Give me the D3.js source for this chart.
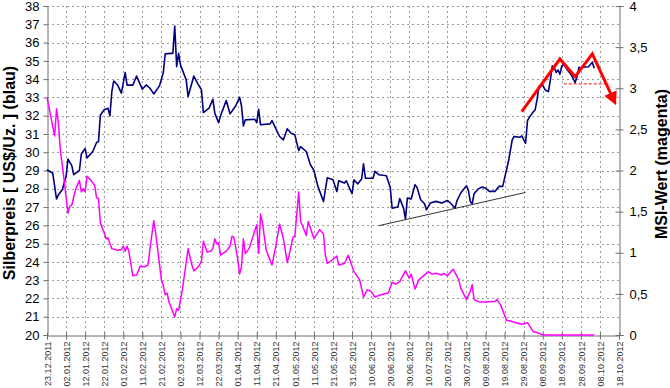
<!DOCTYPE html>
<html>
<head>
<meta charset="utf-8">
<script src="https://cdn.jsdelivr.net/npm/d3@7"></script>
<style>
body { margin: 0; background: #fff; }
svg { display: block; font-family: Arial, "Liberation Sans", sans-serif; }
</style>
</head>
<body>
<svg width="670" height="388"></svg>
<script>
// Silberpreis (blau), linke Achse
var silverDates = [
  "23.12.2011","26.12.2011","28.12.2011","29.12.2011","31.12.2011",
  "02.01.2012","03.01.2012","05.01.2012","06.01.2012","09.01.2012","10.01.2012","12.01.2012","13.01.2012","16.01.2012","18.01.2012","19.01.2012","20.01.2012","22.01.2012","24.01.2012","25.01.2012","26.01.2012","27.01.2012","29.01.2012","31.01.2012",
  "02.02.2012","03.02.2012","06.02.2012","08.02.2012","09.02.2012","11.02.2012","13.02.2012","15.02.2012","17.02.2012","20.02.2012","22.02.2012","23.02.2012","26.02.2012","27.02.2012","28.02.2012","29.02.2012",
  "01.03.2012","02.03.2012","05.03.2012","06.03.2012","09.03.2012","11.03.2012","13.03.2012","14.03.2012","17.03.2012","19.03.2012","20.03.2012","22.03.2012","23.03.2012","26.03.2012","28.03.2012","31.03.2012",
  "02.04.2012","03.04.2012","04.04.2012","05.04.2012","10.04.2012","11.04.2012","12.04.2012","13.04.2012","18.04.2012","19.04.2012","23.04.2012","25.04.2012","27.04.2012","29.04.2012",
  "01.05.2012","03.05.2012","04.05.2012","07.05.2012","09.05.2012","11.05.2012","13.05.2012","16.05.2012","18.05.2012","21.05.2012","23.05.2012","24.05.2012","27.05.2012","28.05.2012","30.05.2012","31.05.2012",
  "01.06.2012","03.06.2012","05.06.2012","06.06.2012","07.06.2012","11.06.2012","12.06.2012","14.06.2012","18.06.2012","20.06.2012","21.06.2012","24.06.2012","25.06.2012","27.06.2012","28.06.2012","29.06.2012",
  "01.07.2012","03.07.2012","04.07.2012","06.07.2012","08.07.2012","09.07.2012","11.07.2012","14.07.2012","17.07.2012","20.07.2012","22.07.2012","24.07.2012","25.07.2012","27.07.2012","30.07.2012","31.07.2012",
  "01.08.2012","02.08.2012","03.08.2012","05.08.2012","07.08.2012","09.08.2012","11.08.2012","14.08.2012","16.08.2012","18.08.2012","19.08.2012","21.08.2012","23.08.2012","24.08.2012","27.08.2012","28.08.2012","30.08.2012","31.08.2012",
  "01.09.2012","03.09.2012","04.09.2012","05.09.2012","06.09.2012","08.09.2012","09.09.2012","10.09.2012","11.09.2012","12.09.2012","13.09.2012","14.09.2012","15.09.2012","16.09.2012","17.09.2012","18.09.2012","19.09.2012","20.09.2012","21.09.2012","23.09.2012","25.09.2012","26.09.2012","27.09.2012","28.09.2012","29.09.2012",
  "02.10.2012","04.10.2012","05.10.2012"
];
var silverPrices = [
  29.04, 28.85, 27.44, 27.67, 27.95,
  28.67, 29.62, 29.27, 28.77, 29.0, 29.9, 30.2, 29.68, 30.04, 30.53, 30.58, 32.04, 32.32, 32.4, 31.99, 33.32, 33.9, 33.68, 33.23,
  34.36, 33.67, 33.67, 34.17, 33.92, 33.45, 33.68, 33.5, 33.19, 33.63, 34.36, 35.38, 35.41, 35.41, 36.9, 34.68,
  35.41, 34.78, 33.96, 33.05, 34.17, 33.77, 33.41, 32.17, 32.41, 32.9, 32.14, 31.62, 31.99, 32.83, 32.1, 32.54,
  33.01, 32.54, 31.44, 31.77, 31.8, 31.62, 32.35, 31.5, 31.55, 31.73, 30.86, 30.68, 31.28, 31.04,
  30.95, 30.09, 30.31, 30.04, 29.35, 29.0, 28.16, 27.3, 28.6, 28.49, 27.85, 28.44, 28.31, 28.44, 27.95, 27.73,
  28.49, 28.27, 28.53, 29.37, 28.58, 28.58, 28.95, 28.77, 28.71, 28.09, 26.94, 27.0, 27.47, 26.94, 26.34, 27.49,
  27.44, 28.22, 28.09, 27.4, 27.18, 26.85, 27.22, 27.31, 27.22, 27.36, 27.18, 26.94, 27.34, 27.77, 28.16, 27.91,
  27.31, 27.18, 27.73, 27.98, 28.09, 28.04, 27.86, 27.86, 28.13, 28.13, 28.58, 29.49, 30.68, 30.86, 30.82, 30.89, 30.49, 31.73,
  31.92, 32.2, 32.32, 32.86, 33.59, 33.68, 33.45, 33.36, 33.32, 33.96, 34.72, 34.65, 34.36, 34.5, 34.27, 34.72, 34.81, 34.65, 34.5, 34.23, 33.81, 34.14, 34.65, 34.6, 34.65,
  34.68, 34.92, 34.6
];

// MSI-Wert (magenta), rechte Achse
var msiDates = [
  "23.12.2011","27.12.2011","28.12.2011","29.12.2011","30.12.2011",
  "01.01.2012","03.01.2012","04.01.2012","05.01.2012","07.01.2012","09.01.2012","10.01.2012","11.01.2012","12.01.2012","13.01.2012","15.01.2012","17.01.2012","18.01.2012","19.01.2012","20.01.2012","22.01.2012","23.01.2012","24.01.2012","26.01.2012","29.01.2012","31.01.2012",
  "01.02.2012","02.02.2012","03.02.2012","04.02.2012","06.02.2012","08.02.2012","10.02.2012","12.02.2012","14.02.2012","15.02.2012","17.02.2012","18.02.2012","21.02.2012","22.02.2012","23.02.2012","24.02.2012","25.02.2012","27.02.2012","28.02.2012","29.02.2012",
  "01.03.2012","03.03.2012","06.03.2012","08.03.2012","09.03.2012","11.03.2012","13.03.2012","14.03.2012","16.03.2012","18.03.2012","19.03.2012","20.03.2012","21.03.2012","22.03.2012","23.03.2012","26.03.2012","28.03.2012","29.03.2012","30.03.2012",
  "01.04.2012","02.04.2012","03.04.2012","04.04.2012","05.04.2012","07.04.2012","11.04.2012","12.04.2012","13.04.2012","14.04.2012","16.04.2012","19.04.2012","21.04.2012","23.04.2012","25.04.2012","27.04.2012","28.04.2012","30.04.2012",
  "01.05.2012","03.05.2012","04.05.2012","05.05.2012","07.05.2012","08.05.2012","10.05.2012","11.05.2012","14.05.2012","16.05.2012","17.05.2012","18.05.2012","20.05.2012","23.05.2012","24.05.2012","27.05.2012","29.05.2012",
  "01.06.2012","04.06.2012","06.06.2012","08.06.2012","10.06.2012","12.06.2012","15.06.2012","19.06.2012","21.06.2012","23.06.2012","25.06.2012","28.06.2012","30.06.2012",
  "01.07.2012","03.07.2012","05.07.2012","07.07.2012","10.07.2012","12.07.2012","14.07.2012","17.07.2012","18.07.2012","20.07.2012","23.07.2012","26.07.2012","27.07.2012","30.07.2012",
  "01.08.2012","02.08.2012","03.08.2012","06.08.2012","10.08.2012","14.08.2012","15.08.2012","17.08.2012","20.08.2012","22.08.2012","25.08.2012","28.08.2012","31.08.2012",
  "03.09.2012","05.09.2012","07.09.2012","09.09.2012","16.09.2012","23.09.2012","30.09.2012",
  "05.10.2012"
];
var msiValues = [
  2.89, 2.42, 2.75, 2.57, 2.25,
  1.88, 1.48, 1.57, 1.58, 1.77, 1.88, 1.74, 1.78, 1.74, 1.93, 1.88, 1.82, 1.67, 1.66, 1.36, 1.24, 1.17, 1.18, 1.05, 1.03, 1.04,
  1.08, 1.02, 1.08, 1.01, 0.72, 0.73, 0.84, 0.83, 0.85, 1.05, 1.39, 1.24, 0.67, 0.6, 0.49, 0.51, 0.40, 0.28, 0.22, 0.32,
  0.30, 0.55, 1.05, 0.85, 0.78, 0.82, 0.89, 1.14, 1.01, 1.02, 1.05, 1.17, 1.11, 1.12, 0.97, 1.02, 1.08, 1.20, 1.19,
  0.93, 0.74, 0.83, 1.17, 0.99, 1.05, 1.34, 0.99, 1.47, 1.36, 1.03, 0.85, 1.08, 1.35, 1.17, 0.88, 0.97, 1.19,
  1.20, 1.74, 1.38, 1.33, 1.21, 1.38, 1.24, 1.17, 1.28, 1.23, 0.97, 0.87, 0.90, 0.96, 0.85, 0.87, 0.97,
  0.77, 0.67, 0.46, 0.55, 0.53, 0.46, 0.49, 0.51, 0.64, 0.62, 0.65, 0.78, 0.69,
  0.74, 0.56, 0.67, 0.71, 0.77, 0.74, 0.75, 0.73, 0.75, 0.72, 0.80, 0.67, 0.57, 0.43,
  0.53, 0.61, 0.43, 0.40, 0.40, 0.41, 0.43, 0.36, 0.18, 0.17, 0.15, 0.13, 0.15,
  0.04, 0.03, 0.01, 0, 0, 0, 0,
  0
];

// Achsen
var axisStart = "23.12.2011";
var axisEnd = "18.10.2012";
var priceTicks = d3.range(20, 39);
var msiTicks = [0, 0.5, 1, 1.5, 2, 2.5, 3, 3.5, 4];

// Markierungen im Chart
var trendDates = ["14.06.2012", "30.08.2012"];
var trendPrices = [25.98, 27.8];
var arrowDates = ["28.08.2012", "17.09.2012", "25.09.2012", "04.10.2012", "15.10.2012"];
var arrowPrices = [32.22, 35.1, 34.14, 35.38, 32.9];
var neckDates = ["19.09.2012", "13.10.2012"];
var neckPrices = [33.74, 33.74];

var svg = d3.select('svg');
var parseDate = d3.utcParse('%d.%m.%Y');
var plotLeft = 47, plotRight = 619, plotTop = 6, plotBottom = 335;

var x = d3.scaleUtc()
    .domain([parseDate(axisStart), parseDate(axisEnd)])
    .range([plotLeft, plotRight]);
var yPrice = d3.scaleLinear().domain([20, 38]).range([plotBottom, plotTop]);
var yMsi = d3.scaleLinear().domain([0, 4]).range([plotBottom, plotTop]);

var dateTicks = d3.utcDay.range(x.domain()[0], d3.utcDay.offset(x.domain()[1], 1), 10);
var de = d3.formatLocale({ decimal: ",", thousands: ".", grouping: [3], currency: ["", " €"] });

var silver = silverDates.map(function (d, i) { return { date: parseDate(d), value: silverPrices[i] }; });
var msi = msiDates.map(function (d, i) { return { date: parseDate(d), value: msiValues[i] }; });

// grid
var grid = svg.append("g").attr("stroke", "#9a9a9a").attr("stroke-dasharray", "2,3").attr("stroke-width", 1);
grid.selectAll(".h").data(priceTicks.slice(1)).enter().append("line")
    .attr("x1", plotLeft).attr("x2", plotRight)
    .attr("y1", function (d) { return Math.round(yPrice(d)) + 0.5; })
    .attr("y2", function (d) { return Math.round(yPrice(d)) + 0.5; });
grid.selectAll(".v").data(dateTicks.slice(1, -1)).enter().append("line")
    .attr("y1", plotTop).attr("y2", plotBottom)
    .attr("x1", function (d) { return Math.round(x(d)) + 0.5; })
    .attr("x2", function (d) { return Math.round(x(d)) + 0.5; });

// axes
function styleAxis(g) {
    g.select(".domain").attr("stroke", "#6e6e6e");
    g.selectAll(".tick line").attr("stroke", "#6e6e6e");
    g.selectAll("text").attr("fill", "#000").style("font-family", "Arial, 'Liberation Sans', sans-serif");
}

var leftAxis = svg.append("g")
    .attr("transform", "translate(" + (plotLeft + 0.5) + ",0)")
    .call(d3.axisLeft(yPrice).tickValues(priceTicks).tickFormat(d3.format("d")).tickSizeOuter(0).tickSize(4).tickPadding(4))
    .call(styleAxis);
leftAxis.selectAll("text").style("font-size", "13px");

var rightAxis = svg.append("g")
    .attr("transform", "translate(" + (plotRight + 0.5) + ",0)")
    .call(d3.axisRight(yMsi).tickValues(msiTicks).tickFormat(de.format("~g")).tickSizeOuter(0).tickSize(4).tickPadding(6))
    .call(styleAxis);
rightAxis.selectAll(".tick line").attr("x1", -4);
rightAxis.selectAll("text").style("font-size", "13px");

var bottomAxis = svg.append("g")
    .attr("transform", "translate(0," + (plotBottom + 0.5) + ")")
    .call(d3.axisBottom(x).tickValues(dateTicks).tickFormat(d3.utcFormat("%d.%m.%Y")).tickSizeOuter(0).tickSize(4))
    .call(styleAxis);
bottomAxis.selectAll(".tick line").attr("y1", -3);
bottomAxis.selectAll("text")
    .style("font-size", "9px")
    .attr("fill", "#333")
    .attr("text-anchor", "end")
    .attr("transform", "rotate(-90)")
    .attr("x", -6).attr("y", 0).attr("dy", "0.35em");

// series
var priceLine = d3.line().x(function (d) { return x(d.date); }).y(function (d) { return yPrice(d.value); });
var msiLine = d3.line().x(function (d) { return x(d.date); }).y(function (d) { return yMsi(d.value); });

svg.append("path").datum(silver)
    .attr("d", priceLine).attr("fill", "none")
    .attr("stroke", "#000080").attr("stroke-width", 1.6).attr("stroke-linejoin", "round");

svg.append("path").datum(msi)
    .attr("d", msiLine).attr("fill", "none")
    .attr("stroke", "#ff00ff").attr("stroke-width", 1.5).attr("stroke-linejoin", "round");

// annotations
var trend = trendDates.map(function (d, i) { return { date: parseDate(d), value: trendPrices[i] }; });
svg.append("path").datum(trend)
    .attr("d", priceLine).attr("fill", "none")
    .attr("stroke", "#333").attr("stroke-width", 1);

var neck = neckDates.map(function (d, i) { return { date: parseDate(d), value: neckPrices[i] }; });
svg.append("path").datum(neck)
    .attr("d", priceLine).attr("fill", "none")
    .attr("stroke", "#ff0000").attr("stroke-width", 1).attr("stroke-dasharray", "3,2");

svg.append("defs").append("marker")
    .attr("id", "arrow")
    .attr("viewBox", "0 0 10 10")
    .attr("refX", 5).attr("refY", 5)
    .attr("markerWidth", 4.5).attr("markerHeight", 4.5)
    .attr("orient", "auto")
    .append("path").attr("d", "M0,0 L10,5 L0,10 z").attr("fill", "#ff0000");

var zigzag = arrowDates.map(function (d, i) { return { date: parseDate(d), value: arrowPrices[i] }; });
svg.append("path").datum(zigzag)
    .attr("d", priceLine).attr("fill", "none")
    .attr("stroke", "#ff0000").attr("stroke-width", 3)
    .attr("marker-end", "url(#arrow)");

// axis titles
svg.append("text")
    .attr("transform", "translate(15,173) rotate(-90)")
    .attr("text-anchor", "middle")
    .style("font-size", "16px").style("font-weight", "bold")
    .text("Silberpreis [ US$/Uz. ] (blau)");

svg.append("text")
    .attr("transform", "translate(667,164) rotate(-90)")
    .attr("text-anchor", "middle")
    .style("font-size", "16px").style("font-weight", "bold")
    .text("MSI-Wert (magenta)");
</script>
</body>
</html>
